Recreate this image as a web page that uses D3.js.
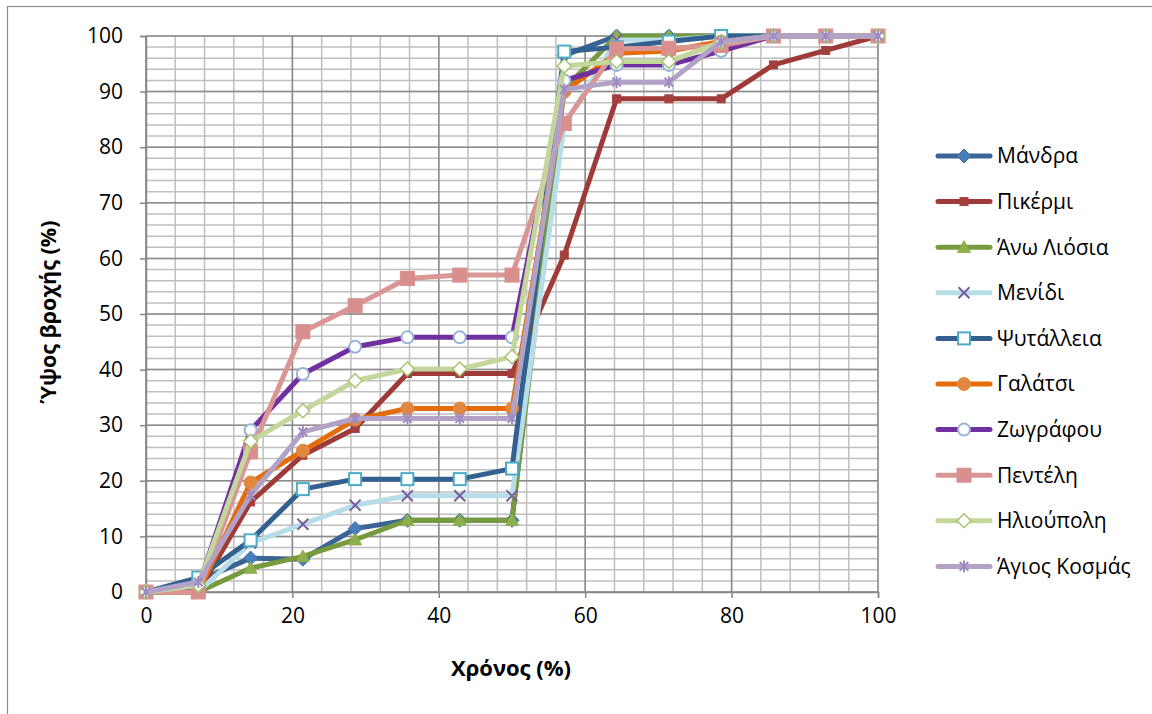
<!DOCTYPE html>
<html>
<head>
<meta charset="utf-8">
<script src="https://cdn.jsdelivr.net/npm/d3@7"></script>
<style>
  html, body { margin: 0; padding: 0; background: #fff; }
  svg { display: block; }
  text { font-family: "Open Sans", "Noto Sans", sans-serif; fill: #000; }
</style>
</head>
<body>
<svg id="chart" width="1152" height="714"></svg>
<script>
// Time (% of storm duration)
const timePct = [0, 7.14, 14.29, 21.43, 28.57, 35.71, 42.86, 50, 57.14, 64.29, 71.43, 78.57, 85.71, 92.86, 100];

// Cumulative rainfall depth (%) per station
const mandra     = [0, 2, 6.1, 5.9, 11.4, 12.9, 12.9, 12.9, 96.5, 100, 100, 100, 100, 100, 100];
const pikermi    = [0, 0, 16.2, 24.6, 29.4, 39.3, 39.3, 39.3, 60.6, 88.7, 88.7, 88.7, 94.8, 97.4, 100];
const anoLiosia  = [0, 0, 4.3, 6.4, 9.4, 12.9, 12.9, 12.9, 90.5, 100, 100, 100, 100, 100, 100];
const menidi     = [0, 0, 8.8, 12.2, 15.6, 17.3, 17.3, 17.3, 84, 99.3, 99.3, 100, 100, 100, 100];
const psyttaleia = [0, 2.6, 9.3, 18.5, 20.3, 20.3, 20.3, 22.2, 97.2, 98, 99, 100, 100, 100, 100];
const galatsi    = [0, 0, 19.7, 25.4, 31, 33, 33, 33, 90, 96.9, 97.3, 99, 100, 100, 100];
const zografou   = [0, 1, 29.1, 39.2, 44.1, 45.8, 45.8, 45.8, 92, 94.8, 94.8, 97.3, 100, 100, 100];
const penteli    = [0, 0, 25.2, 46.8, 51.5, 56.4, 57, 57, 84.3, 97.7, 97.8, 98.3, 100, 100, 100];
const ilioupoli  = [0, 1.2, 27.1, 32.6, 38, 40.1, 40.1, 42.3, 94.6, 95.4, 95.4, 98.9, 100, 100, 100];
const agiosKosmas= [0, 1.8, 17.4, 28.8, 31.2, 31.2, 31.2, 31.2, 90.4, 91.7, 91.7, 99, 100, 100, 100];

const seriesNames = ["Μάνδρα", "Πικέρμι", "Άνω Λιόσια", "Μενίδι", "Ψυτάλλεια", "Γαλάτσι", "Ζωγράφου", "Πεντέλη", "Ηλιούπολη", "Άγιος Κοσμάς"];
const seriesValues = [mandra, pikermi, anoLiosia, menidi, psyttaleia, galatsi, zografou, penteli, ilioupoli, agiosKosmas];

const xTicks = [0, 20, 40, 60, 80, 100];
const yTicks = [0, 10, 20, 30, 40, 50, 60, 70, 80, 90, 100];

// Appearance per series: line colour, marker type, marker fill / stroke, marker size
const styles = [
  { line: "#3A6494", marker: "diamond",  fill: "#4A7EBB", stroke: "#3F6FA8", size: 12 },
  { line: "#9E3B39", marker: "square",   fill: "#A3403E", stroke: "#A3403E", size: 8 },
  { line: "#789A3E", marker: "triangle", fill: "#8DAF4D", stroke: "#8DAF4D", size: 13 },
  { line: "#B7DEE8", marker: "cross",    fill: "none",    stroke: "#7B5E9E", size: 11 },
  { line: "#33608F", marker: "square",   fill: "#FFFFFF", stroke: "#4BACC6", size: 12, sw: 2 },
  { line: "#E46C0A", marker: "circle",   fill: "#E0883F", stroke: "#E0883F", size: 13 },
  { line: "#7030A0", marker: "circle",   fill: "#FFFFFF", stroke: "#95B3D7", size: 12, sw: 2 },
  { line: "#D99694", marker: "square",   fill: "#D88F8D", stroke: "#D88F8D", size: 14 },
  { line: "#C3D69B", marker: "diamond",  fill: "#FFFFFF", stroke: "#A6C470", size: 12, sw: 1.5 },
  { line: "#B3A2C7", marker: "star",     fill: "none",    stroke: "#9D8BC2", size: 12 }
];

const svg = d3.select("#chart");

// outer chart frame
svg.append("rect")
  .attr("x", 7.5).attr("y", 6.5)
  .attr("width", 1160).attr("height", 720)
  .attr("fill", "#fff").attr("stroke", "#8C8C8C").attr("stroke-width", 1.2);

const plot = { left: 146, right: 878, top: 36, bottom: 592 };

const x = d3.scaleLinear().domain([0, 100]).range([plot.left, plot.right]);
const y = d3.scaleLinear().domain([0, 100]).range([plot.bottom, plot.top]);

// minor gridlines
const grid = svg.append("g");
grid.selectAll("line.vminor")
  .data(d3.range(0, 101, 4))
  .join("line")
  .attr("x1", d => x(d)).attr("x2", d => x(d))
  .attr("y1", plot.top).attr("y2", plot.bottom)
  .attr("stroke", "#BFBFBF").attr("stroke-width", 1.5);
grid.selectAll("line.hminor")
  .data(d3.range(0, 101, 2))
  .join("line")
  .attr("y1", d => y(d)).attr("y2", d => y(d))
  .attr("x1", plot.left).attr("x2", plot.right)
  .attr("stroke", "#BFBFBF").attr("stroke-width", 1.5);
// major gridlines
grid.selectAll("line.vmajor")
  .data(xTicks)
  .join("line")
  .attr("x1", d => x(d)).attr("x2", d => x(d))
  .attr("y1", plot.top).attr("y2", plot.bottom)
  .attr("stroke", "#8C8C8C").attr("stroke-width", 1.5);
grid.selectAll("line.hmajor")
  .data(yTicks)
  .join("line")
  .attr("y1", d => y(d)).attr("y2", d => y(d))
  .attr("x1", plot.left).attr("x2", plot.right)
  .attr("stroke", "#8C8C8C").attr("stroke-width", 1.5);

// axes
const xAxis = svg.append("g")
  .attr("transform", `translate(0,${plot.bottom})`)
  .call(d3.axisBottom(x).tickValues(xTicks).tickSize(6).tickPadding(10));
const yAxis = svg.append("g")
  .attr("transform", `translate(${plot.left},0)`)
  .call(d3.axisLeft(y).tickValues(yTicks).tickSize(6).tickPadding(17));
[xAxis, yAxis].forEach(g => {
  g.select(".domain").attr("stroke", "#868686").attr("stroke-width", 1.5);
  g.selectAll(".tick line").attr("stroke", "#868686").attr("stroke-width", 1.5);
  g.selectAll(".tick text").attr("font-size", 21).attr("fill", "#000")
    .attr("font-family", "'Open Sans', 'Noto Sans', sans-serif");
});

// axis titles
svg.append("text")
  .attr("x", x(50) - 1).attr("y", 676)
  .attr("text-anchor", "middle")
  .attr("font-size", 22).attr("font-weight", "bold")
  .text("Χρόνος (%)");
svg.append("text")
  .attr("transform", `translate(56,${y(50) - 2}) rotate(-90)`)
  .attr("text-anchor", "middle")
  .attr("font-size", 21.5).attr("font-weight", "bold")
  .text("Ύψος βροχής (%)");

// marker drawing
function starPath(s) {
  const r = s / 2, d = r * 0.72;
  return `M0,${-r}L0,${r}M${-d},${-d}L${d},${d}M${-d},${d}L${d},${-d}`;
}
function crossPath(s) {
  const r = s / 2;
  return `M${-r},${-r}L${r},${r}M${-r},${r}L${r},${-r}`;
}
function drawMarker(g, st) {
  const s = st.size;
  let el;
  if (st.marker === "diamond") {
    const r = s / 2 + 1;
    el = g.append("path").attr("d", `M0,${-r}L${r},0L0,${r}L${-r},0Z`);
  } else if (st.marker === "square") {
    el = g.append("rect").attr("x", -s / 2).attr("y", -s / 2).attr("width", s).attr("height", s);
  } else if (st.marker === "triangle") {
    const r = s / 2;
    el = g.append("path").attr("d", `M0,${-r}L${r},${r * 0.8}L${-r},${r * 0.8}Z`);
  } else if (st.marker === "circle") {
    el = g.append("circle").attr("r", s / 2);
  } else if (st.marker === "cross") {
    el = g.append("path").attr("d", crossPath(s)).attr("stroke-width", 2);
  } else if (st.marker === "star") {
    el = g.append("path").attr("d", starPath(s)).attr("stroke-width", 2);
  }
  el.attr("fill", st.fill).attr("stroke", st.stroke);
  if (st.sw) el.attr("stroke-width", st.sw);
  return el;
}

const line = d3.line().x(d => x(d[0])).y(d => y(d[1]));

seriesValues.forEach((vals, i) => {
  const st = styles[i];
  const pts = timePct.map((t, j) => [t, vals[j]]);
  const g = svg.append("g");
  g.append("path")
    .datum(pts)
    .attr("d", line)
    .attr("fill", "none")
    .attr("stroke", st.line)
    .attr("stroke-width", 5)
    .attr("stroke-linejoin", "round")
    .attr("stroke-linecap", "round");
  pts.forEach(p => {
    const mg = g.append("g").attr("transform", `translate(${x(p[0])},${y(p[1])})`);
    drawMarker(mg, st);
  });
});

// legend
const legend = svg.append("g");
seriesNames.forEach((name, i) => {
  const st = styles[i];
  const cy = 156 + i * 45.6;
  legend.append("line")
    .attr("x1", 938).attr("x2", 990)
    .attr("y1", cy).attr("y2", cy)
    .attr("stroke", st.line).attr("stroke-width", 5)
    .attr("stroke-linecap", "round");
  drawMarker(legend.append("g").attr("transform", `translate(964,${cy})`), st);
  legend.append("text")
    .attr("x", 997).attr("y", cy)
    .attr("dy", "0.35em")
    .attr("font-size", 21)
    .text(name);
});
</script>
</body>
</html>
